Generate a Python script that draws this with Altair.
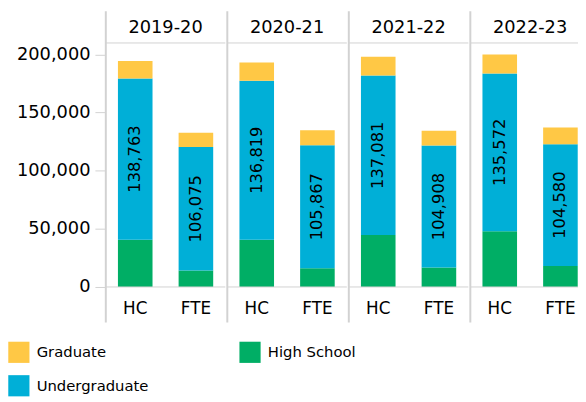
import altair as alt
import pandas as pd

years = ["2019-20", "2020-21", "2021-22", "2022-23"]
measures = ["HC", "FTE"]
levels = ["Graduate", "High School", "Undergraduate"]
level_colors = ["#FFC845", "#00AE65", "#00AFD7"]
y_ticks = [0, 50000, 100000, 150000, 200000]

hc_high_school = [40600, 40600, 44700, 48000]
hc_undergraduate = [138763, 136819, 137081, 135572]
hc_graduate = [15000, 15500, 16100, 16300]
fte_high_school = [14200, 16100, 16700, 18100]
fte_undergraduate = [106075, 105867, 104908, 104580]
fte_graduate = [12300, 12700, 12700, 14400]

rows = []
for i, yr in enumerate(years):
    for m, hs, ug, gr in [
        ("HC", hc_high_school[i], hc_undergraduate[i], hc_graduate[i]),
        ("FTE", fte_high_school[i], fte_undergraduate[i], fte_graduate[i]),
    ]:
        rows.append(dict(Year=yr, Measure=m, Level="High School", Value=hs, Order=0))
        rows.append(dict(Year=yr, Measure=m, Level="Undergraduate", Value=ug, Order=1))
        rows.append(dict(Year=yr, Measure=m, Level="Graduate", Value=gr, Order=2))
df = pd.DataFrame(rows)

W = 121          # width of one year panel
H_PLOT = 279     # from panel top to the zero line
H = 315          # panel height including the HC/FTE label band
FONT = "DejaVu Sans"
GRID = "#d2d2d2"

ytop = 237000
ybottom = -ytop * (H - H_PLOT) / H_PLOT
yscale = alt.Scale(domain=[ybottom, ytop], nice=False, zero=False)
xscale = alt.Scale(domain=measures, paddingInner=0.43, paddingOuter=0.2)
yaxis = alt.Axis(values=y_ticks, format=",.0f", title=None, grid=False,
                 domain=False, tickColor=GRID, tickSize=10, labelPadding=5,
                 labelFontSize=18, labelColor="#000000")

bars = alt.Chart().mark_bar().encode(
    x=alt.X("Measure:N", sort=measures, scale=xscale, axis=None),
    y=alt.Y("Value:Q", stack="zero", scale=yscale, axis=yaxis, title=None),
    color=alt.Color(
        "Level:N",
        scale=alt.Scale(domain=levels, range=level_colors),
        legend=alt.Legend(title=None, orient="none", legendX=-99, legendY=334,
                          values=levels, direction="horizontal", columns=2,
                          columnPadding=91, rowPadding=12,
                          symbolType="square", symbolSize=460,
                          symbolStrokeWidth=0, symbolOpacity=1,
                          labelFontSize=15, labelOffset=7, labelColor="#000000"),
    ),
    order=alt.Order("Order:Q"),
)

labels = (
    alt.Chart()
    .transform_pivot("Level", value="Value", groupby=["Year", "Measure"])
    .transform_calculate(mid="datum['High School'] + datum['Undergraduate'] / 2")
    .mark_text(angle=270, fontSize=16.5, color="#000000", baseline="middle", align="center")
    .encode(
        x=alt.X("Measure:N", sort=measures, scale=xscale, axis=None),
        y=alt.Y("mid:Q", scale=yscale, axis=yaxis, title=None),
        text=alt.Text("Undergraduate:Q", format=","),
    )
)

hc_fte = (
    alt.Chart()
    .transform_filter("datum.Level == 'Undergraduate'")
    .mark_text(fontSize=17, color="#000000", baseline="middle", align="center")
    .encode(
        x=alt.X("Measure:N", sort=measures, scale=xscale, axis=None),
        y=alt.value(H_PLOT + 22),
        text="Measure:N",
    )
)

one = alt.Chart().transform_filter("datum.Measure == 'HC' && datum.Level == 'Undergraduate'")

header_text = one.mark_text(fontSize=18, color="#000000", baseline="middle").encode(
    text="Year:N", x=alt.value(W / 2), y=alt.value(17)
)
header_line = one.mark_rule(color=GRID, strokeWidth=1).encode(
    x=alt.value(0), x2=alt.value(W), y=alt.value(32)
)
base_line = one.mark_rule(color=GRID, strokeWidth=1).encode(
    x=alt.value(0), x2=alt.value(W), y=alt.value(H_PLOT)
)
sep_line = one.mark_rule(color=GRID, strokeWidth=2).encode(
    x=alt.value(0), y=alt.value(0), y2=alt.value(H)
)

cell = alt.layer(bars, labels, hc_fte, header_line, base_line, sep_line, header_text).properties(
    width=W, height=H
)

chart = (
    cell.facet(
        column=alt.Column("Year:N", sort=years, title=None, header=None),
        data=df,
        spacing=0,
    )
    .properties(padding={"left": 0, "top": 0, "right": -13, "bottom": 0})
    .configure(font=FONT)
    .configure_view(strokeWidth=0)
)

chart.save("out.html", embed_options={"renderer": "svg", "actions": False})
